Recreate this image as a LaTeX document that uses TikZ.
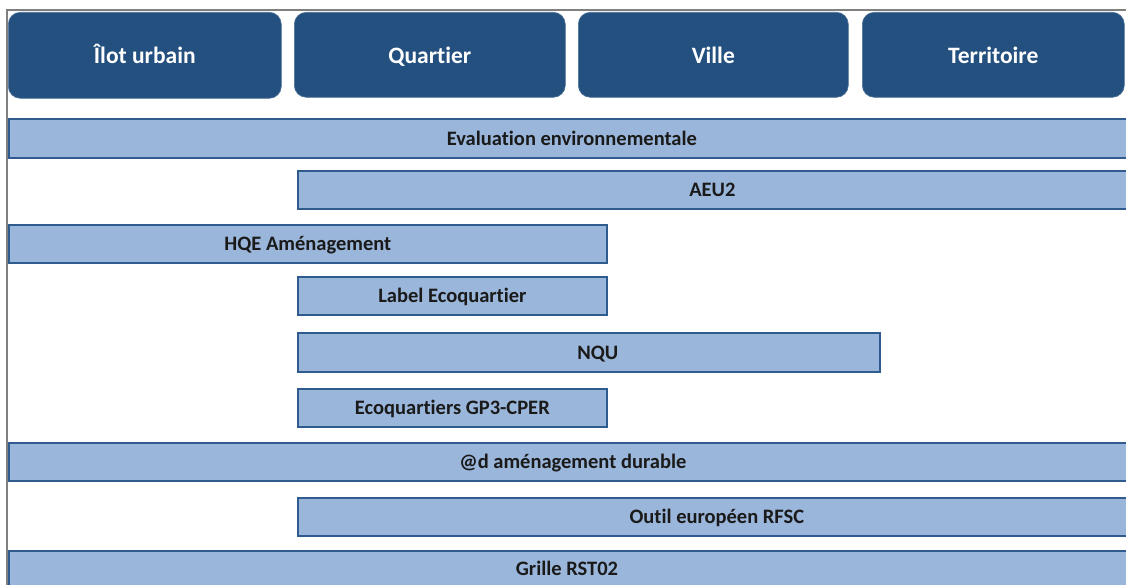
\documentclass[tikz,border=0pt]{standalone}
\usepackage{fontspec}
\setmainfont{Carlito}[Ligatures=NoCommon]
\definecolor{topblue}{HTML}{24507F}
\definecolor{barfill}{HTML}{9AB6DA}
\definecolor{barline}{HTML}{2F5B8F}
\definecolor{frame}{HTML}{808080}
\definecolor{txt}{HTML}{1A1A1A}
\begin{document}
\begin{tikzpicture}[x=1pt,y=-1pt,
  scalebox/.style={draw=topblue!80!white,line width=0.6pt,fill=topblue,rounded corners=12pt,anchor=north west,
    text=white,font=\fontsize{23.5}{27}\selectfont\bfseries,inner sep=0pt,text height=19pt,text depth=2pt},
  bar/.style={draw=barline,line width=1.7pt,fill=barfill,anchor=north west,inner sep=0pt,
    text=txt,font=\fontsize{20.5}{24}\selectfont\bfseries,text height=16pt,text depth=2.5pt},
]
\useasboundingbox (0,0) rectangle (1126,585);
\clip (0,0) rectangle (1126,585);
\fill[white] (0,0) rectangle (1126,585);
% frame
\draw[frame,line width=2pt] (7,585) -- (7,10) -- (1130,10);
% scale headers
\node[scalebox,minimum width=273pt,minimum height=86pt] (ilot) at (8,12) {Îlot urbain};
\node[scalebox,minimum width=271pt,minimum height=85pt] (quartier) at (294,12) {Quartier};
\node[scalebox,minimum width=270pt,minimum height=85pt] (ville) at (578,12) {Ville};
\node[scalebox,minimum width=262pt,minimum height=85pt] (territoire) at (862,12) {Territoire};
% bars
\node[bar,minimum width=1126pt,minimum height=39pt] (eval) at (8,118) {Evaluation environnementale};
\node[bar,minimum width=829pt,minimum height=38pt] (aeu) at (297,170) {AEU2};
\node[bar,minimum width=598pt,minimum height=38pt] (hqe) at (8,224) {HQE Aménagement};
\node[bar,minimum width=309pt,minimum height=38pt] (label) at (297,276) {Label Ecoquartier};
\node[bar,minimum width=582pt,minimum height=39pt] (nqu) at (297,332) {\hspace{18pt}NQU};
\node[bar,minimum width=309pt,minimum height=38pt] (gp3) at (297,388) {Ecoquartiers GP3-CPER};
\node[bar,minimum width=1128pt,minimum height=38pt] (ad) at (8,442) {@d aménagement durable};
\node[bar,minimum width=838pt,minimum height=38pt] (rfsc) at (297,497) {Outil européen RFSC};
\node[bar,minimum width=1118pt,minimum height=38pt] (rst) at (8,550) {};
\node[text=txt,font=\fontsize{20.5}{24}\selectfont\bfseries,text height=16pt,text depth=2.5pt,inner sep=0pt] (rstlabel) at (567,569) {Grille RST02};
\end{tikzpicture}
\end{document}
